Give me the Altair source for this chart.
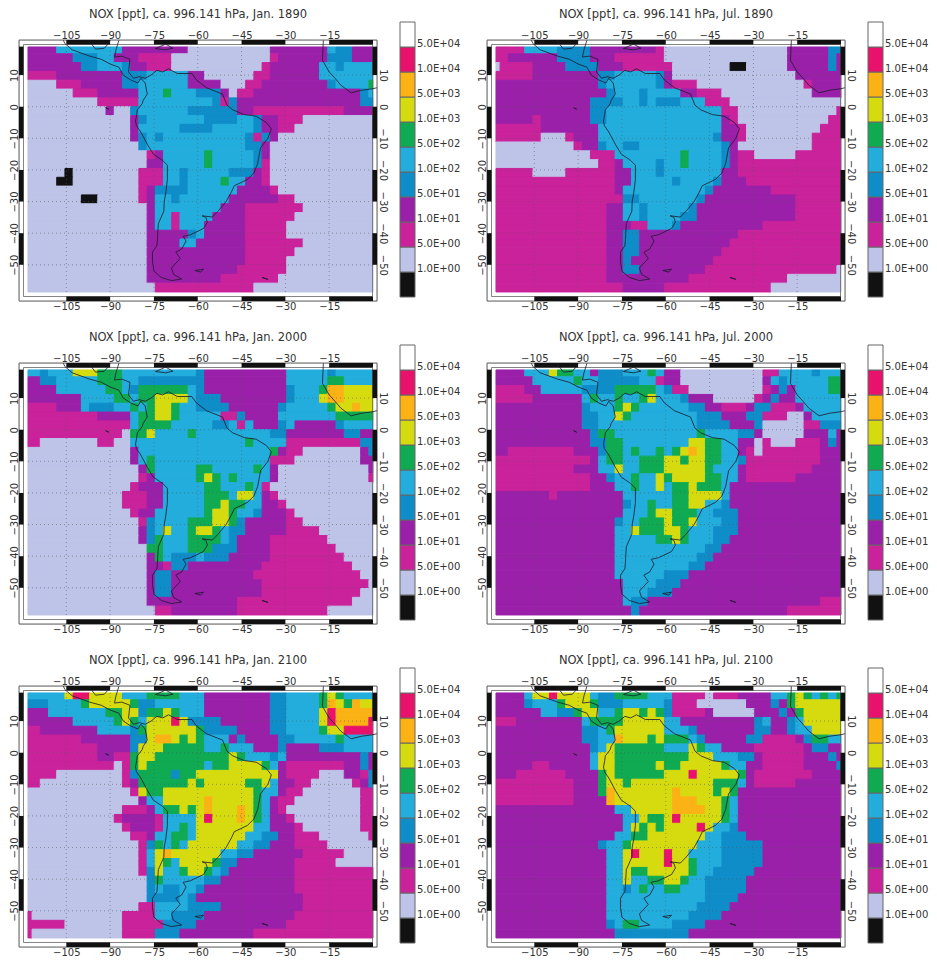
import re
import altair as alt
import pandas as pd

LEVELS = ["k", "a", "m", "p", "b", "c", "g", "y", "o", "r", "w"]
COLORS = ["#111111", "#BEC3E8", "#C9229B", "#9B20A9", "#0F8DC9", "#23ADDD", "#0FAA52", "#D6DB10", "#FBB215", "#E8126D", "#FFFFFF"]
LEGEND_LABELS = ["1.0E+00", "5.0E+00", "1.0E+01", "5.0E+01", "1.0E+02", "5.0E+02", "1.0E+03", "5.0E+03", "1.0E+04", "5.0E+04"]
TITLES = ["Jan. 1890", "Jul. 1890", "Jan. 2000", "Jul. 2000", "Jan. 2100", "Jul. 2100"]
LON_TICKS = [-105, -90, -75, -60, -45, -30, -15]
LAT_TICKS = [-50, -40, -30, -20, -10, 0, 10]
LON_BLACK = [(-105, -90), (-75, -60), (-45, -30), (-15, 0)]
LAT_BLACK = [(19, 10), (0, -10), (-20, -30), (-40, -50)]

# Each row: runs of level letter + end column (exclusive), north to south
JAN_1890 = [
"p4 c12 p20 a30 p37 c38 b40 p43",
"p6 b9 c11 p14 m18 a30 m31 p37 b40 p43",
"p7 b9 c12 b13 p15 m18 a29 m30 p36 c38 b39 c43",
"m4 p12 b15 c20 p22 a28 m30 p36 c43",
"a4 m7 p12 b14 c20 p24 a27 m29 p37 b38 c42 g43",
"a6 m9 p14 c17 g18 c21 b24 p25 a26 m28 p41 b42 c43",
"a9 m14 c23 b24 m25 b26 p41 b43",
"a10 p11 a13 b14 c20 b26 p28 m39 p43",
"a13 p14 b15 c22 b26 c28 b29 p31 m34 a43",
"a13 p14 c19 b23 c28 b29 p31 m33 a43",
"a13 p14 b15 c16 b17 c27 b28 m29 b30 p31 a43",
"a14 b15 c27 b29 p30 a43",
"a15 m16 p17 c22 g23 c28 b29 p30 a43",
"a15 p17 c22 g23 c28 b29 m30 a43",
"a5 k6 a14 m17 c19 b20 c25 b28 p29 m30 a43",
"a4 k6 a14 m17 c19 b20 c24 g25 c27 p29 m30 a43",
"a14 m15 p16 b20 c26 p30 m31 a43",
"a7 k9 a14 m15 p16 c18 b19 c25 p31 m33 a43",
"a15 p16 c24 p27 m34 a43",
"a15 p16 c18 m19 c23 p27 m33 a43",
"a15 p16 c18 m19 c22 p27 m32 a43",
"a15 p20 b21 c22 p27 m32 a43",
"a15 p19 c21 p27 m34 a43",
"a15 p27 m33 a43",
"a15 p27 m32 a43",
"a15 p26 m32 a43",
"a15 p24 m31 a43",
"a16 m28 a43",
]
JUL_1890 = [
"m4 c8 b12 p20 m21 a36 p41 b43",
"m2 p8 b12 p15 m21 a36 p41 b42 p43",
"a1 m5 p9 b13 p16 m22 a29 k31 a36 p41 b42 p43",
"m5 p13 b15 c20 b21 p22 a37 p43",
"p13 b14 c20 b21 p22 m25 a38 m39 p43",
"p14 b15 c18 b19 c23 p25 m28 a39 p43",
"p12 b16 c18 b19 c20 b23 c26 m29 a43",
"p12 b14 c28 m30 a42 m43",
"p5 m6 p12 b14 c28 p29 m30 a41 m43",
"m6 p13 c28 p30 m31 a40 m43",
"m6 a9 m10 p13 c27 b28 p30 m31 a39 m43",
"a10 m11 p13 b14 c16 b18 c28 b29 p30 a39 m43",
"a12 m15 c23 g24 c28 b29 p30 m32 a37 m43",
"a13 m15 p16 c20 b21 c23 g24 c28 b29 p30 m43",
"m5 a9 m15 p17 c20 b21 c28 p30 m43",
"m15 p17 c22 b23 c27 b28 p31 m43",
"m15 p16 c26 b27 p34 m43",
"m16 b18 c25 b26 p37 m43",
"m14 p16 c18 b19 c24 b25 p37 m43",
"m14 p16 c18 b19 c23 b25 p37 m43",
"m14 p17 m19 c22 b23 p33 m43",
"m14 p16 b18 p30 m43",
"m14 p16 b18 p29 m43",
"m14 p16 b18 p28 m43",
"m14 p16 b17 p27 m43",
"m14 p16 b18 p26 m42 a43",
"m14 p24 m36 a43",
"m16 p21 m34 a43",
]
JAN_2000 = [
"c2 b3 c6 y9 g12 c21 b22 p32 c37 b38 c43",
"p2 b4 c9 g12 c14 b22 p32 c37 g39 c43",
"p4 c10 g12 c13 b14 g20 c21 b22 p32 b33 c36 g37 o39 y43",
"p7 c11 g13 c14 g16 y20 c21 b24 p32 b33 c36 y37 o39 y43",
"m4 p7 c8 b11 c13 g14 c15 g16 y18 g19 c21 b25 p31 b32 c37 g38 y40 o41 y43",
"m9 p13 c14 g16 y18 g19 c24 m26 b27 p31 c38 g43",
"m13 c14 g18 c23 b25 c26 m27 c28 p31 b32 c33 p38 b39 c43",
"m12 a13 g15 y16 c20 g21 c30 b32 p39 b41 p43",
"m2 a9 m11 a13 c27 g28 c32 m41 b43",
"a13 p14 c30 g31 p32 m34 a41 p42 b43",
"a13 p14 c15 g16 c30 m33 a41 p43",
"a14 p15 g16 c21 g23 c28 g29 c30 p31 a42 p43",
"a14 m15 p16 c21 g22 y23 g24 c25 g26 c30 p31 a42 m43",
"a13 m14 p17 c22 g24 c27 g28 c29 m30 a43",
"a12 m15 p17 c22 g25 c26 y28 c29 p30 m31 a43",
"a12 m15 p17 c22 g24 y25 g27 c29 p31 m32 a43",
"a13 m14 p16 c22 g23 y25 g26 c28 b29 p32 m33 a43",
"a14 m15 b16 c20 g23 y25 g26 b27 p32 m34 a43",
"a14 p15 b16 c17 y18 c20 g21 y23 g24 c25 b27 p32 m36 a43",
"a14 p15 b16 g17 c20 g24 c25 b26 p30 m37 a43",
"a15 g17 c20 g23 b26 p30 m38 a43",
"a15 p16 g17 c18 b21 c22 b25 p30 m39 a43",
"a15 p17 m18 b20 p29 m40 a43",
"a15 p16 b18 p28 m41 a43",
"a15 p16 b18 p29 m42 a43",
"a15 p16 b18 p29 m41 a43",
"a15 p26 m40 a43",
"a16 m18 p26 m37 a43",
]
JUL_2000 = [
"p4 c7 y8 g10 c12 p13 b16 c19 g20 c21 p23 a33 m35 c39 b40 c43",
"p5 c10 g11 c13 b18 c20 m21 p23 a33 p34 c35 b36 c41 g43",
"m4 p6 c11 b15 g20 c21 b22 m24 a33 m34 p35 b36 p37 c41 g43",
"m5 p11 c12 g13 c15 g16 c18 g19 y20 c23 b24 p27 a32 m33 p34 b35 p37 c43",
"p11 b12 c15 g16 y17 g18 c24 b26 p28 m31 p32 b34 m37 p38 c43",
"p11 b13 c15 y16 g17 c25 b28 p31 b33 m36 a38 p39 c43",
"p11 b13 c25 b29 p32 b33 a38 m40 b43",
"p12 b13 g15 c25 g26 c30 b32 p33 a38 p41 c42 p43",
"p12 b14 g16 c24 y26 g28 c30 p32 a33 m34 a37 m40 p41 b42 p43",
"p2 m10 p13 b14 g16 c17 g18 c20 g21 c22 g23 y24 o25 y26 g28 c30 p31 m32 a33 m40 p43",
"m12 p13 c14 g16 c18 g21 y23 g24 y26 g28 c30 b31 m40 p43",
"m10 p13 c15 y16 c18 g21 y26 g27 c30 p31 m39 p43",
"m12 p14 b15 c17 g18 c20 y21 g22 y26 g28 c30 p31 m37 p43",
"m12 p15 c17 g18 c20 y21 c22 g24 y25 g28 c29 p43",
"p7 m8 p16 c22 g24 y28 c29 p43",
"p16 b17 c19 g20 c22 g24 y26 c28 b29 p43",
"p16 c19 g20 y22 g25 c27 b30 p43",
"p15 b16 c18 g21 y22 g24 y25 c28 b30 p43",
"p15 c17 y18 g21 y23 g24 c27 b30 p43",
"p15 c20 g22 y23 g24 c27 b29 p43",
"p15 c26 b28 p43",
"p15 c25 b27 p43",
"p15 c24 b26 p43",
"p15 c21 b24 p43",
"p16 c20 b23 p43",
"p16 c19 b22 p43",
"p16 c17 b19 p40 m43",
"p17 b18 p36 m43",
]
JAN_2100 = [
"c5 y6 r8 y12 c15 g19 c22 p30 b32 c36 g37 y38 g39 c43",
"b3 c7 g8 y13 g14 b16 c22 p30 b32 c36 g37 o38 y39 g40 o41 y43",
"p3 c10 g12 y14 b15 g17 y18 g19 c22 p30 b32 c36 y37 r38 o43",
"p6 c11 g12 y13 g14 c15 y18 r19 y20 b24 p30 b32 c36 y37 r38 o42 r43",
"m2 p9 c13 b14 g15 y21 g22 b26 p30 b32 c36 g37 y39 r43",
"m7 p13 b15 y16 o18 y19 g20 y21 g22 c25 p26 b27 p31 b33 c38 g39 c43",
"m9 p13 b14 y17 g22 c24 g25 c28 p31 b32 p36 b39 c43",
"m9 p11 m13 g14 y16 g25 y26 g27 c30 b31 c32 p41 b42 p43",
"m11 a12 m13 g14 y15 g22 c23 g25 y29 g30 c31 p32 m39 p41 b42 p43",
"m4 a12 m13 b14 g18 b19 g21 y31 p32 m36 a39 p41 m42 b43",
"m2 a12 m13 p14 g20 y21 g22 y27 g29 y30 c31 p33 m35 a40 m41 p42 b43",
"a13 m14 y15 g17 y28 g29 c31 p32 m34 a41 m43",
"a14 p15 c17 y22 o23 y28 g29 c30 p31 m33 a41 m43",
"a12 m15 p16 c17 g19 y20 g21 y22 o23 y26 o27 y28 g29 c30 p31 m32 a41 m43",
"a11 m12 p16 m17 c21 y22 r23 y26 o27 y28 g29 c30 p32 m33 a41 m43",
"a12 m13 p16 m17 c19 g20 c21 y28 c30 p33 m34 a41 m43",
"a13 m15 p16 c18 g20 c21 y27 c29 b31 p33 m36 a42 m43",
"a14 m15 b16 g17 c18 g19 c20 y26 c28 b30 p33 m37 a43",
"a14 m15 c16 y17 o18 y24 c26 b28 p34 m39 a43",
"a14 m15 c16 y17 g18 c19 y23 g24 b26 p33 m38 a43",
"a14 m15 b16 y17 c19 g20 y22 g23 c24 b25 p33 m43",
"a15 b16 g17 c22 b24 p33 m43",
"a15 b16 c17 b19 c21 b22 p33 m43",
"a15 b19 c20 b21 p34 m43",
"a14 m16 c20 b24 p34 m43",
"m1 a12 m16 c18 b22 p33 m43",
"m5 a12 m17 b21 p32 m43",
"m1 a12 m16 b19 p28 m43",
]
JUL_2100 = [
"p4 c5 y7 r8 y12 c13 b15 g19 c22 m26 a27 m30 p34 c36 g37 y38 g39 c40 g41 c42 g43",
"p4 b5 c8 g9 y12 g13 b16 c21 b22 m25 a31 p34 b35 p36 g37 y43",
"p6 c8 b10 g11 y13 c15 g16 y18 g19 y20 g21 b22 m26 p27 a32 p35 b36 p37 g38 y43",
"m3 p11 c12 g16 y21 c23 p32 b33 c34 p36 b37 c38 y43",
"p11 b13 c14 g15 y21 c24 b25 p32 b34 p36 b37 c39 y43",
"p11 b13 c15 o16 y19 g20 y21 g24 c25 b26 p31 b33 m37 p38 b39 g41 c43",
"p12 b13 c14 y15 g21 c24 y25 g26 c28 p32 m38 p39 b41 p43",
"p12 c13 y15 g24 y27 c30 b32 p33 m38 p41 b42 p43",
"p5 m7 p12 c13 y15 g20 y21 g23 y28 g29 c31 p33 m38 p42 b43",
"p3 m9 p13 g14 y15 g21 y24 r25 y30 g31 p32 m39 p43",
"m10 p13 g14 y16 g17 y27 g30 c31 p32 m37 p43",
"m10 p13 g14 o15 y22 o23 y27 g28 y29 g30 p43",
"m10 p14 o15 y22 o25 y28 g29 c30 p43",
"p15 c17 y22 o26 y28 g29 c30 p43",
"p16 c18 y19 g21 y22 r23 y28 g29 c30 p43",
"p16 c17 y18 g19 y20 g21 y25 r26 y27 c29 b30 p43",
"p15 c17 g19 y26 c28 b31 p43",
"p13 b14 c16 g17 y25 c28 b33 p43",
"p14 c16 y17 r18 y21 r22 y24 c28 b33 p43",
"p14 c16 y21 r22 y24 g25 c28 b33 p43",
"p14 c16 y17 g19 y24 g25 c27 b32 p43",
"p14 c16 y17 c19 g21 y23 g24 c26 b31 p43",
"p14 c16 b17 c18 g19 c21 g23 c26 b31 p43",
"p14 c26 b30 p43",
"p14 c25 b29 p43",
"p14 c24 b28 p43",
"p14 b15 c16 g18 c22 b26 p43",
"p15 b24 p43",
]
PANELS = [JAN_1890, JUL_1890, JAN_2000, JUL_2000, JAN_2100, JUL_2100]

# Coastlines as (lon, lat)
COAST_AMERICA = [(-106,21),(-105.5,20),(-103,18),(-97,16),(-93,15),(-90,13.5),(-87,12.5),(-85.5,10),(-83,8.5),(-80.5,7.5),(-79.5,9),(-78,7.5),(-77.3,4),(-78.7,2),(-79,1),(-80.7,-1),(-80.9,-2.5),(-81.3,-4.5),(-81,-6),(-79.5,-8),(-77.2,-12),(-75.2,-15),(-72,-17),(-70.4,-18.5),(-70.4,-23),(-70.9,-27),(-71.5,-30),(-71.6,-33),(-73.5,-37),(-73.7,-40),(-73.8,-42),(-74,-44),(-75.5,-46),(-75.5,-49),(-75,-52),(-72.5,-54),(-69,-55),(-65.5,-54.5),(-68.3,-53),(-69,-51),(-66,-48),(-67.5,-46),(-65.5,-45),(-64,-42.5),(-65,-41),(-62.5,-40.5),(-58,-38.5),(-56.7,-36.5),(-57.2,-35),(-58.5,-34.5),(-55,-34.9),(-53,-33),(-50.3,-30),(-48.5,-27),(-47.5,-25),(-43,-23),(-40.8,-21),(-39.5,-18),(-38.5,-13),(-36,-10),(-34.8,-7),(-36.5,-5),(-40,-3),(-44,-2.5),(-48,-1),(-50,0.5),(-51.5,4),(-57,6),(-60.5,8.5),(-62,10.5),(-67,10.5),(-70,12),(-72,11),(-74,11.5),(-76,10),(-78,9),(-80,9.5),(-82,9),(-83.7,11),(-83.2,15),(-86,16),(-88.5,15.7),(-88,18),(-87,21)]
COAST_GULF = [(-97.8,22),(-96.5,20),(-95,18.2),(-92,18.5),(-90.5,20),(-90,21)]
COAST_AFRICA = [(-17,21),(-17.3,14.7),(-15,11),(-13,9),(-11,6.8),(-7.5,4.4),(-4,5.2),(0,5.7),(1.3,6)]
COAST_ANTILLES = [(-74.5,18.4),(-71,18),(-68.5,18.5),(-71,19.8),(-74.5,18.4)]
COAST_FALKLAND = [(-61,-51.8),(-58,-51.4),(-59,-52.3),(-61,-51.8)]
COAST_GEORGIA = [(-38,-54),(-36,-54.6),(-38,-54)]
COAST_GALAPAGOS = [(-91.5,-0.3),(-90.5,-0.8),(-91.5,-0.3)]
COASTS = [COAST_AMERICA, COAST_GULF, COAST_AFRICA, COAST_ANTILLES, COAST_FALKLAND, COAST_GEORGIA, COAST_GALAPAGOS]

FRAME_W, FRAME_H = 358, 261
X_DOMAIN = [-121.2, 1.37]
Y_DOMAIN = [-61.45, 21.1]
GRAY = "#666666"
TEXT = "#333333"
FONT = "DejaVu Sans"
BAND = 4.5
LEG_X = 381
LEG_W = 15
LEG_BOX = 25  # px per legend box

xs = alt.Scale(domain=X_DOMAIN, nice=False, zero=False)
ys = alt.Scale(domain=Y_DOMAIN, nice=False, zero=False)
cs = alt.Scale(domain=LEVELS, range=COLORS)
DEG_PER_PX = (Y_DOMAIN[1] - Y_DOMAIN[0]) / FRAME_H


def cells_frame(rows):
    out = []
    for r, row in enumerate(rows):
        top = 18.9 if r == 0 else 2.79 * (7 - r)
        bot = 2.79 * (6 - r)
        start = 0
        for code, end in re.findall(r"([a-z])(\d+)", row):
            end = int(end)
            if end <= start:
                continue
            w = -118.125 if start == 0 else -118.125 + 2.8125 * start - 1.40625
            e = 0 if end >= 43 else -118.125 + 2.8125 * end - 1.40625
            out.append({"x0": w, "x1": e, "y0": bot, "y1": top, "v": code})
            start = end
    return pd.DataFrame(out)


coast_rows = []
for g, seg in enumerate(COASTS):
    for i, (lo, la) in enumerate(seg):
        coast_rows.append({"g": g, "i": i, "lon": lo, "lat": la})
coast_df = pd.DataFrame(coast_rows)
lon_black = pd.DataFrame(LON_BLACK, columns=["a", "b"])
lat_black = pd.DataFrame(LAT_BLACK, columns=["a", "b"])
lon_df = pd.DataFrame({"lon": LON_TICKS})
lat_df = pd.DataFrame({"lat": LAT_TICKS})


def leg_pos(k):
    return Y_DOMAIN[0] + (4 + k * LEG_BOX) * DEG_PER_PX


boxes_df = pd.DataFrame({"i": [leg_pos(k) for k in range(11)], "j": [leg_pos(k + 1) for k in range(11)], "v": LEVELS})
labs_df = pd.DataFrame({"b": [leg_pos(k + 1) for k in range(10)], "t": LEGEND_LABELS})


def x_axis(orient):
    return alt.Axis(orient=orient, values=LON_TICKS, format="d", title=None, domain=False, ticks=False, grid=False,
                    labelFont=FONT, labelFontSize=10, labelColor=TEXT, labelPadding=0)


def y_axis(orient, angle):
    return alt.Axis(orient=orient, values=LAT_TICKS, format="d", title=None, domain=False, ticks=False, grid=False,
                    labelFont=FONT, labelFontSize=10, labelColor=TEXT, labelPadding=0, labelAngle=angle)


def panel(rows, name):
    base = alt.Chart(cells_frame(rows)).mark_rect(strokeWidth=1).encode(
        x=alt.X("x0:Q", scale=xs, axis=x_axis("bottom")),
        x2="x1:Q",
        y=alt.Y("y0:Q", scale=ys, axis=y_axis("left", 270)),
        y2="y1:Q",
        fill=alt.Fill("v:N", scale=cs, legend=None),
        stroke=alt.Stroke("v:N", scale=cs, legend=None),
    )
    top_axis = alt.Chart(lon_df).mark_rule(opacity=0).encode(
        x=alt.X("lon:Q", scale=xs, axis=x_axis("top")), y=alt.value(0), y2=alt.value(1))
    right_axis = alt.Chart(lat_df).mark_rule(opacity=0).encode(
        y=alt.Y("lat:Q", scale=ys, axis=y_axis("right", 90)), x=alt.value(0), x2=alt.value(1))
    grid_x = alt.Chart(lon_df).mark_rule(color="#555555", opacity=0.6, strokeDash=[1, 3], strokeWidth=0.9).encode(
        x=alt.X("lon:Q", scale=xs, axis=None), y=alt.value(7), y2=alt.value(252))
    grid_y = alt.Chart(lat_df).mark_rule(color="#555555", opacity=0.6, strokeDash=[1, 3], strokeWidth=0.9).encode(
        y=alt.Y("lat:Q", scale=ys, axis=None), x=alt.value(9), x2=alt.value(354))
    coast = alt.Chart(coast_df).mark_line(color="#1a1a2a", strokeWidth=0.8, clip=True).encode(
        x=alt.X("lon:Q", scale=xs, axis=None),
        y=alt.Y("lat:Q", scale=ys, axis=None),
        detail="g:N",
        order="i:Q",
    )
    one = pd.DataFrame({"n": [0]})
    outer = alt.Chart(one).mark_rect(fill=None, stroke=GRAY, strokeWidth=1).encode(
        x=alt.value(0), x2=alt.value(FRAME_W), y=alt.value(0), y2=alt.value(FRAME_H))
    inner = alt.Chart(one).mark_rect(fill=None, stroke=GRAY, strokeWidth=0.8).encode(
        x=alt.value(BAND), x2=alt.value(FRAME_W - BAND), y=alt.value(BAND), y2=alt.value(FRAME_H - BAND))
    blk = {"color": "#111111"}
    top = alt.Chart(lon_black).mark_rect(**blk).encode(
        x=alt.X("a:Q", scale=xs, axis=None), x2="b:Q", y=alt.value(0), y2=alt.value(BAND))
    bottom = alt.Chart(lon_black).mark_rect(**blk).encode(
        x=alt.X("a:Q", scale=xs, axis=None), x2="b:Q", y=alt.value(FRAME_H - BAND), y2=alt.value(FRAME_H))
    left = alt.Chart(lat_black).mark_rect(**blk).encode(
        y=alt.Y("a:Q", scale=ys, axis=None), y2="b:Q", x=alt.value(0), x2=alt.value(BAND))
    right = alt.Chart(lat_black).mark_rect(**blk).encode(
        y=alt.Y("a:Q", scale=ys, axis=None), y2="b:Q", x=alt.value(FRAME_W - BAND), x2=alt.value(FRAME_W))
    leg_rect = alt.Chart(boxes_df).mark_rect(strokeWidth=1).encode(
        x=alt.value(LEG_X), x2=alt.value(LEG_X + LEG_W),
        y=alt.Y("i:Q", scale=ys, axis=None), y2="j:Q",
        fill=alt.Fill("v:N", scale=cs, legend=None),
        stroke=alt.value("#666666"),
    )
    leg_text = alt.Chart(labs_df).mark_text(align="left", baseline="middle", dy=-3.5, font=FONT, fontSize=10,
                                            color=TEXT).encode(
        x=alt.value(LEG_X + LEG_W + 2), y=alt.Y("b:Q", scale=ys, axis=None), text="t:N")
    return alt.layer(base, top_axis, right_axis, grid_x, grid_y, outer, inner, top, bottom, left, right, coast,
                     leg_rect, leg_text).properties(
        width=FRAME_W, height=FRAME_H,
        title=alt.TitleParams(f"NOX [ppt], ca. 996.141 hPa, {name}", font=FONT, fontSize=11.5, fontWeight="normal",
                              color=TEXT, anchor="middle", offset=1),
    )


chart = alt.concat(*[panel(PANELS[i], TITLES[i]) for i in range(6)], columns=2,
                   spacing={"row": 62, "column": 110}, bounds="flush").properties(
    padding={"left": 0, "top": 0, "right": 0, "bottom": 0}
).configure_view(stroke=None).configure(background="white")

chart.save("out.html", embed_options={"renderer": "svg", "actions": False})
